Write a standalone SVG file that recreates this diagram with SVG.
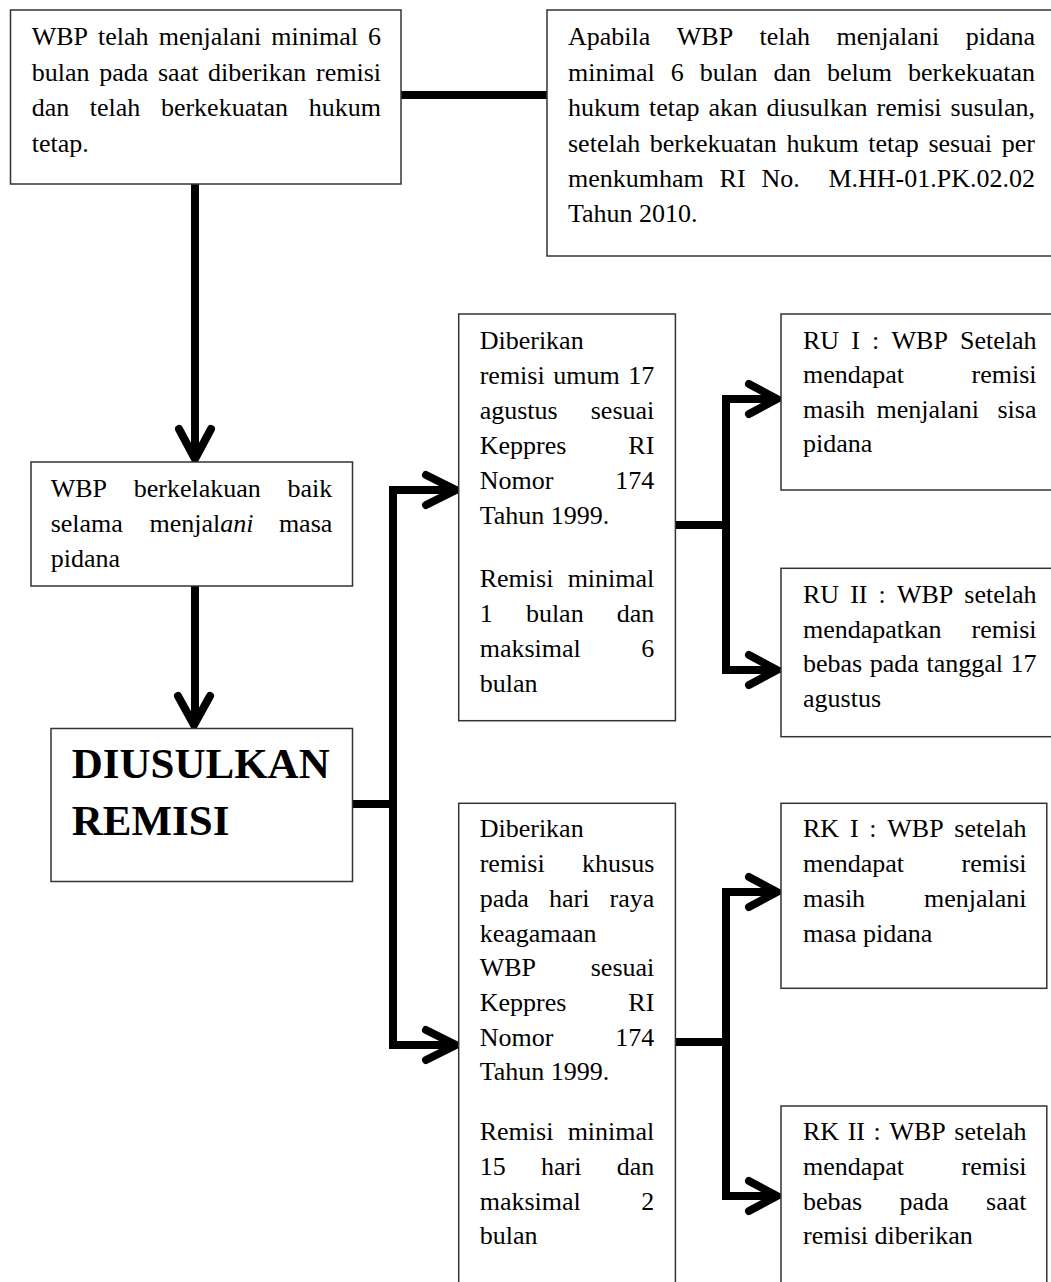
<svg xmlns="http://www.w3.org/2000/svg" width="1051" height="1282" viewBox="0 0 1051 1282">
<style>
.bg{fill:#fff}
.box{fill:#fff;stroke:#333;stroke-width:1.5}
.t{font-family:"Liberation Serif","Times New Roman",serif;font-size:26px;fill:#000}
.e{text-anchor:end}
.big{font-family:"Liberation Serif","Times New Roman",serif;font-size:43px;font-weight:bold;fill:#000}
.c{fill:none;stroke:#000;stroke-width:8;stroke-linejoin:miter}
.h{fill:none;stroke:#000;stroke-width:8;stroke-linecap:round;stroke-linejoin:miter}
</style>
<rect class="bg" x="0" y="0" width="1051" height="1282"/>

<g id="connectors">
  <line class="c" x1="401" y1="95" x2="548" y2="95"/>
  <line class="c" x1="195" y1="184" x2="195" y2="456"/>
  <polyline class="h" points="179,429 195,459 211,429"/>
  <line class="c" x1="195" y1="586" x2="195" y2="722"/>
  <polyline class="h" points="178,696 194,725 210,696"/>
  <line class="c" x1="352" y1="804" x2="393" y2="804"/>
  <polyline class="c" points="454,490 393,490 393,1045 454,1045"/>
  <polyline class="h" points="426,475 456,490 426,505"/>
  <polyline class="h" points="426,1030 456,1045 426,1060"/>
  <line class="c" x1="675" y1="525" x2="726" y2="525"/>
  <polyline class="c" points="775,399 726,399 726,670 775,670"/>
  <polyline class="h" points="749,384 777,399 749,414"/>
  <polyline class="h" points="749,655 777,670 749,685"/>
  <line class="c" x1="675" y1="1042" x2="726" y2="1042"/>
  <polyline class="c" points="775,892 726,892 726,1196 775,1196"/>
  <polyline class="h" points="749,877 777,892 749,907"/>
  <polyline class="h" points="749,1181 777,1196 749,1211"/>
</g>

<g id="node-wbp6">
  <rect class="box" x="10.5" y="10" width="390.5" height="174"/>
  <text class="t" y="45"><tspan x="31.7">WBP</tspan><tspan x="98.1">telah</tspan><tspan x="158.7">menjalani</tspan><tspan x="271.3">minimal</tspan><tspan x="381" class="e">6</tspan></text>
  <text class="t" y="80.5"><tspan x="31.7">bulan</tspan><tspan x="99.2">pada</tspan><tspan x="158">saat</tspan><tspan x="208.1">diberikan</tspan><tspan x="381" class="e">remisi</tspan></text>
  <text class="t" y="116"><tspan x="31.7">dan</tspan><tspan x="89.8">telah</tspan><tspan x="160.9">berkekuatan</tspan><tspan x="381" class="e">hukum</tspan></text>
  <text class="t" x="31.7" y="151.5">tetap.</text>
</g>

<g id="node-susulan">
  <rect class="box" x="547" y="10" width="520" height="246"/>
  <text class="t" y="45"><tspan x="568">Apabila</tspan><tspan x="676.8">WBP</tspan><tspan x="759.6">telah</tspan><tspan x="836.6">menjalani</tspan><tspan x="1035" class="e">pidana</tspan></text>
  <text class="t" y="80.5"><tspan x="568">minimal</tspan><tspan x="670.7">6</tspan><tspan x="699.7">bulan</tspan><tspan x="773.5">dan</tspan><tspan x="827">belum</tspan><tspan x="1035" class="e">berkekuatan</tspan></text>
  <text class="t" y="116"><tspan x="568">hukum</tspan><tspan x="649.1">tetap</tspan><tspan x="708.5">akan</tspan><tspan x="766.5">diusulkan</tspan><tspan x="876.5">remisi</tspan><tspan x="1035" class="e">susulan,</tspan></text>
  <text class="t" y="151.5"><tspan x="568">setelah</tspan><tspan x="649.8">berkekuatan</tspan><tspan x="786.5">hukum</tspan><tspan x="868.3">tetap</tspan><tspan x="928.4">sesuai</tspan><tspan x="1035" class="e">per</tspan></text>
  <text class="t" y="187"><tspan x="568">menkumham</tspan><tspan x="719.6">RI</tspan><tspan x="761.4">No.</tspan><tspan x="1035" class="e">M.HH-01.PK.02.02</tspan></text>
  <text class="t" x="568" y="222">Tahun 2010.</text>
</g>

<g id="node-berkelakuan">
  <rect class="box" x="31" y="462" width="321.5" height="124"/>
  <text class="t" y="496.7"><tspan x="50.7">WBP</tspan><tspan x="133.7">berkelakuan</tspan><tspan x="332.3" class="e">baik</tspan></text>
  <text class="t" y="531.7"><tspan x="50.7">selama</tspan><tspan x="149.6">menjal<tspan font-style="italic">ani</tspan></tspan><tspan x="332.3" class="e">masa</tspan></text>
  <text class="t" x="50.7" y="566.7">pidana</text>
</g>

<g id="node-diusulkan">
  <rect class="box" x="51" y="728.5" width="301.5" height="153"/>
  <text class="big" x="71.7" y="778">DIUSULKAN</text>
  <text class="big" x="71.7" y="835">REMISI</text>
</g>

<g id="node-remisi-umum">
  <rect class="box" x="458.7" y="314" width="216.7" height="406.7"/>
  <text class="t" x="479.7" y="349">Diberikan</text>
  <text class="t" y="384"><tspan x="479.7">remisi</tspan><tspan x="553.3">umum</tspan><tspan x="654.3" class="e">17</tspan></text>
  <text class="t" y="419"><tspan x="479.7">agustus</tspan><tspan x="654.3" class="e">sesuai</tspan></text>
  <text class="t" y="454"><tspan x="479.7">Keppres</tspan><tspan x="654.3" class="e">RI</tspan></text>
  <text class="t" y="489"><tspan x="479.7">Nomor</tspan><tspan x="654.3" class="e">174</tspan></text>
  <text class="t" x="479.7" y="524">Tahun 1999.</text>
  <text class="t" y="587"><tspan x="479.7">Remisi</tspan><tspan x="654.3" class="e">minimal</tspan></text>
  <text class="t" y="622"><tspan x="479.7">1</tspan><tspan x="525.9">bulan</tspan><tspan x="654.3" class="e">dan</tspan></text>
  <text class="t" y="657"><tspan x="479.7">maksimal</tspan><tspan x="654.3" class="e">6</tspan></text>
  <text class="t" x="479.7" y="692">bulan</text>
</g>

<g id="node-ru1">
  <rect class="box" x="781" y="314" width="300" height="176"/>
  <text class="t" y="349"><tspan x="803">RU</tspan><tspan x="851.3">I</tspan><tspan x="872.1">:</tspan><tspan x="891.5">WBP</tspan><tspan x="1036.5" class="e">Setelah</tspan></text>
  <text class="t" y="383"><tspan x="803">mendapat</tspan><tspan x="1036.5" class="e">remisi</tspan></text>
  <text class="t" y="418"><tspan x="803">masih</tspan><tspan x="876.5">menjalani</tspan><tspan x="1036.5" class="e">sisa</tspan></text>
  <text class="t" x="803" y="452">pidana</text>
</g>

<g id="node-ru2">
  <rect class="box" x="781" y="568.3" width="300" height="168.4"/>
  <text class="t" y="603"><tspan x="803">RU</tspan><tspan x="850.2">II</tspan><tspan x="878.6">:</tspan><tspan x="896.9">WBP</tspan><tspan x="1036.5" class="e">setelah</tspan></text>
  <text class="t" y="638"><tspan x="803">mendapatkan</tspan><tspan x="1036.5" class="e">remisi</tspan></text>
  <text class="t" y="672"><tspan x="803">bebas</tspan><tspan x="869.8">pada</tspan><tspan x="926.5">tanggal</tspan><tspan x="1036.5" class="e">17</tspan></text>
  <text class="t" x="803" y="707">agustus</text>
</g>

<g id="node-remisi-khusus">
  <rect class="box" x="458.7" y="803.3" width="216.7" height="500"/>
  <text class="t" x="479.7" y="837">Diberikan</text>
  <text class="t" y="872"><tspan x="479.7">remisi</tspan><tspan x="654.3" class="e">khusus</tspan></text>
  <text class="t" y="907"><tspan x="479.7">pada</tspan><tspan x="549">hari</tspan><tspan x="654.3" class="e">raya</tspan></text>
  <text class="t" x="479.7" y="942">keagamaan</text>
  <text class="t" y="976"><tspan x="479.7">WBP</tspan><tspan x="654.3" class="e">sesuai</tspan></text>
  <text class="t" y="1011"><tspan x="479.7">Keppres</tspan><tspan x="654.3" class="e">RI</tspan></text>
  <text class="t" y="1046"><tspan x="479.7">Nomor</tspan><tspan x="654.3" class="e">174</tspan></text>
  <text class="t" x="479.7" y="1080">Tahun 1999.</text>
  <text class="t" y="1140"><tspan x="479.7">Remisi</tspan><tspan x="654.3" class="e">minimal</tspan></text>
  <text class="t" y="1175"><tspan x="479.7">15</tspan><tspan x="541">hari</tspan><tspan x="654.3" class="e">dan</tspan></text>
  <text class="t" y="1210"><tspan x="479.7">maksimal</tspan><tspan x="654.3" class="e">2</tspan></text>
  <text class="t" x="479.7" y="1244">bulan</text>
</g>

<g id="node-rk1">
  <rect class="box" x="781" y="803.3" width="265.8" height="185"/>
  <text class="t" y="837"><tspan x="803">RK</tspan><tspan x="849.9">I</tspan><tspan x="869.3">:</tspan><tspan x="887.3">WBP</tspan><tspan x="1026.5" class="e">setelah</tspan></text>
  <text class="t" y="872"><tspan x="803">mendapat</tspan><tspan x="1026.5" class="e">remisi</tspan></text>
  <text class="t" y="907"><tspan x="803">masih</tspan><tspan x="1026.5" class="e">menjalani</tspan></text>
  <text class="t" x="803" y="942">masa pidana</text>
</g>

<g id="node-rk2">
  <rect class="box" x="781" y="1106" width="265.8" height="200"/>
  <text class="t" y="1140"><tspan x="803">RK</tspan><tspan x="847.7">II</tspan><tspan x="873.6">:</tspan><tspan x="889.4">WBP</tspan><tspan x="1026.5" class="e">setelah</tspan></text>
  <text class="t" y="1175"><tspan x="803">mendapat</tspan><tspan x="1026.5" class="e">remisi</tspan></text>
  <text class="t" y="1210"><tspan x="803">bebas</tspan><tspan x="899.6">pada</tspan><tspan x="1026.5" class="e">saat</tspan></text>
  <text class="t" x="803" y="1244">remisi diberikan</text>
</g>
</svg>
